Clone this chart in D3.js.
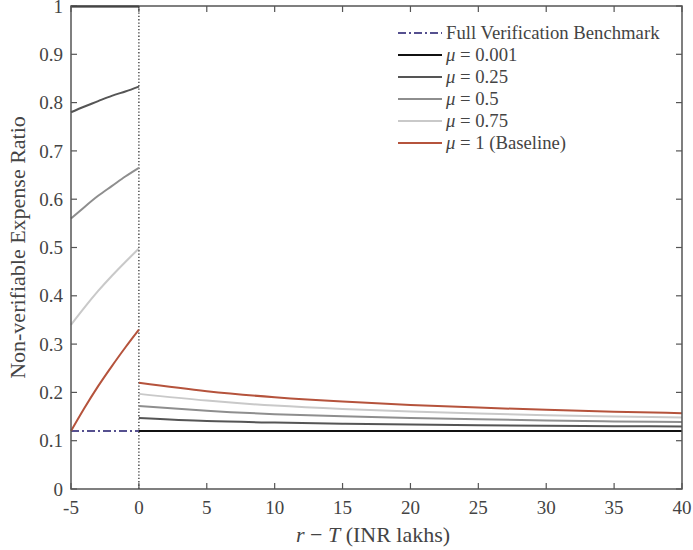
<!DOCTYPE html>
<html><head><meta charset="utf-8">
<script src="https://cdn.jsdelivr.net/npm/d3@7"></script>
<style>
body{margin:0;background:#fff;}
svg text{font-family:"Liberation Serif","DejaVu Serif","Times New Roman",serif;fill:#444;}
</style></head>
<body><svg id="chart" width="693" height="550"></svg>
<script>
// ---- data ----
const xLeft = [-5, -4, -3, -2, -1, 0];
const xRight = [0, 5, 10, 15, 20, 25, 30, 35, 40];
const xTicks = [-5, 0, 5, 10, 15, 20, 25, 30, 35, 40];
const yTicks = [0, 0.1, 0.2, 0.3, 0.4, 0.5, 0.6, 0.7, 0.8, 0.9, 1];
const seriesNames = ["0.001", "0.25", "0.5", "0.75", "1 (Baseline)"];
const seriesColors = ["#111111", "#555555", "#8e8e8e", "#c9c9c9", "#b5533c"];
const left001 = [0.999, 0.999, 0.999, 0.999, 0.999, 0.999];
const left025 = [0.780, 0.792, 0.803, 0.814, 0.823, 0.833];
const left050 = [0.560, 0.584, 0.607, 0.627, 0.647, 0.665];
const left075 = [0.340, 0.376, 0.410, 0.441, 0.470, 0.498];
const left100 = [0.120, 0.168, 0.213, 0.254, 0.293, 0.330];
const right001 = [0.120, 0.120, 0.120, 0.120, 0.120, 0.120, 0.120, 0.120, 0.120];
const right025 = [0.147, 0.1406, 0.1376, 0.1353, 0.1335, 0.1321, 0.1310, 0.1301, 0.1293];
const right050 = [0.172, 0.162, 0.155, 0.1505, 0.147, 0.1443, 0.142, 0.140, 0.1385];
const right075 = [0.197, 0.183, 0.1727, 0.1658, 0.1605, 0.1564, 0.1529, 0.1502, 0.1478];
const right100 = [0.220, 0.2025, 0.190, 0.181, 0.174, 0.1685, 0.164, 0.160, 0.157];
const benchX = [-5, 40];
const benchY = [0.12, 0.12];
const benchName = "Full Verification Benchmark";
const benchColor = "#55508f";

const leftSeries = [left001, left025, left050, left075, left100];
const rightSeries = [right001, right025, right050, right075, right100];

// ---- layout ----
const W = 693, H = 550;
const m = {left: 71, right: 11, top: 6, bottom: 61};
const FONT = "'Liberation Serif','DejaVu Serif','Times New Roman',serif";
const svg = d3.select("#chart");
const x = d3.scaleLinear().domain([-5, 40]).range([m.left, W - m.right]);
const y = d3.scaleLinear().domain([0, 1]).range([H - m.bottom, m.top]);

const axisColor = "#555";
const tickLen = 6;

const gT = svg.append("g");
xTicks.forEach(t => {
  gT.append("line").attr("x1", x(t)).attr("x2", x(t)).attr("y1", y(0)).attr("y2", y(0) - tickLen)
    .attr("stroke", axisColor).attr("stroke-width", 1.2);
  gT.append("line").attr("x1", x(t)).attr("x2", x(t)).attr("y1", y(1)).attr("y2", y(1) + tickLen)
    .attr("stroke", axisColor).attr("stroke-width", 1.2);
  gT.append("text").attr("x", x(t)).attr("y", 514).attr("text-anchor", "middle")
    .attr("font-family", FONT).attr("font-size", 19).text(t);
});
yTicks.forEach(t => {
  gT.append("line").attr("x1", x(-5)).attr("x2", x(-5) + tickLen).attr("y1", y(t)).attr("y2", y(t))
    .attr("stroke", axisColor).attr("stroke-width", 1.2);
  gT.append("line").attr("x1", x(40)).attr("x2", x(40) - tickLen).attr("y1", y(t)).attr("y2", y(t))
    .attr("stroke", axisColor).attr("stroke-width", 1.2);
  gT.append("text").attr("x", 63).attr("y", y(t)).attr("dy", "0.35em").attr("text-anchor", "end")
    .attr("font-family", FONT).attr("font-size", 19).text(t);
});

svg.append("line").attr("x1", x(0)).attr("x2", x(0)).attr("y1", y(0)).attr("y2", y(1))
  .attr("stroke", "#333").attr("stroke-width", 1.3).attr("stroke-dasharray", "1.3,2");

const line = d3.line().x(d => x(d[0])).y(d => y(d[1])).curve(d3.curveNatural);

svg.append("path").datum(benchX.map((v, i) => [v, benchY[i]])).attr("d", line)
  .attr("fill", "none").attr("stroke", benchColor).attr("stroke-width", 2)
  .attr("stroke-dasharray", "8,3,2,3");

for (let i = 0; i < 5; i++) {
  svg.append("path").datum(xLeft.map((v, j) => [v, leftSeries[i][j]])).attr("d", line)
    .attr("fill", "none").attr("stroke", seriesColors[i]).attr("stroke-width", 2);
  svg.append("path").datum(xRight.map((v, j) => [v, rightSeries[i][j]])).attr("d", line)
    .attr("fill", "none").attr("stroke", seriesColors[i]).attr("stroke-width", 2);
}

svg.append("rect").attr("x", x(-5)).attr("y", y(1)).attr("width", x(40) - x(-5)).attr("height", y(0) - y(1))
  .attr("fill", "none").attr("stroke", axisColor).attr("stroke-width", 1.5);

const xl = svg.append("text").attr("x", 373).attr("y", 542).attr("text-anchor", "middle")
  .attr("font-family", FONT).attr("font-size", 22);
xl.append("tspan").attr("font-style", "italic").text("r");
xl.append("tspan").text(" \u2212 ");
xl.append("tspan").attr("font-style", "italic").text("T");
xl.append("tspan").text(" (INR lakhs)");

svg.append("text").attr("transform", `translate(25,${(y(0) + y(1)) / 2}) rotate(-90)`)
  .attr("text-anchor", "middle").attr("font-family", FONT).attr("font-size", 22)
  .text("Non-verifiable Expense Ratio");

const lg = svg.append("g");
const lx0 = 398, lx1 = 442, ly0 = 33, ldy = 22;
lg.append("line").attr("x1", lx0).attr("x2", lx1).attr("y1", ly0).attr("y2", ly0)
  .attr("stroke", benchColor).attr("stroke-width", 2).attr("stroke-dasharray", "8,3,2,3");
lg.append("text").attr("x", 446).attr("y", ly0).attr("dy", "0.33em").attr("font-family", FONT)
  .attr("font-size", 18.7).text(benchName);
seriesNames.forEach((n, i) => {
  const yy = ly0 + ldy * (i + 1);
  lg.append("line").attr("x1", lx0).attr("x2", lx1).attr("y1", yy).attr("y2", yy)
    .attr("stroke", seriesColors[i]).attr("stroke-width", 2);
  const t = lg.append("text").attr("x", 446).attr("y", yy).attr("dy", "0.33em")
    .attr("font-family", FONT).attr("font-size", 18.7);
  t.append("tspan").attr("font-style", "italic").text("\u03bc");
  t.append("tspan").text(" = " + n);
});
</script></body></html>
